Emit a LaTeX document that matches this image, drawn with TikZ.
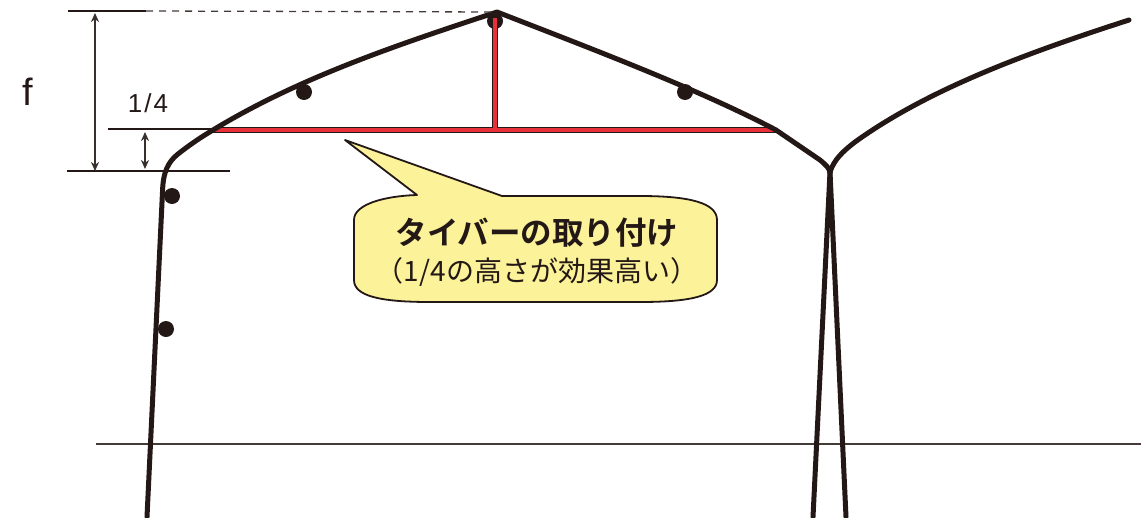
\documentclass[tikz,border=0pt]{standalone}
\usepackage{fontspec}
\setmainfont{Liberation Sans}
\newfontfamily\cjk{Noto Sans CJK JP}
\newfontfamily\cjkb[BoldFont={Noto Sans CJK JP Bold}]{Noto Sans CJK JP}
\usetikzlibrary{arrows.meta}
\definecolor{inkk}{HTML}{231815}
\definecolor{tie}{HTML}{E8303A}
\definecolor{bubble}{HTML}{FBF29A}
\tikzset{
  frame/.style={draw=inkk,line width=5pt,line cap=round,line join=round},
  thinline/.style={draw=inkk,line width=2.2pt},
  hair/.style={draw=inkk!85!white,line width=1.3pt},
  dim/.style={draw=inkk!90!white,line width=1.8pt,{Stealth[length=9pt,width=8pt]}-{Stealth[length=9pt,width=8pt]}},
  bolt/.style={circle,fill=inkk,inner sep=0pt,minimum size=16pt},
  tiebar/.style={draw=inkk,line width=6pt},
  tiefill/.style={draw=tie,line width=3.8pt},
  lbl/.style={inner sep=0pt,text=inkk}
}
\begin{document}
\begin{tikzpicture}[x=1pt,y=-1pt]
\useasboundingbox (0,0) rectangle (1141,517);
% coordinates
\coordinate (topL) at (68,11);
\coordinate (topM) at (146,11);
\coordinate (apex) at (497,12);
\coordinate (quarterL) at (108,129);
\coordinate (quarterR) at (213,129);
\coordinate (baseL) at (67,171);
\coordinate (baseR) at (230,171);
\coordinate (dimA1) at (95,13);
\coordinate (dimA2) at (95,171);
\coordinate (dimB1) at (145,132);
\coordinate (dimB2) at (145,169);
\coordinate (tieL) at (213,130);
\coordinate (tieR) at (776,130);
\coordinate (tieT) at (495,18);
\coordinate (tieB) at (495,130);
\coordinate (valley) at (830,172);
\coordinate (gl1) at (96,444);
\coordinate (gl2) at (1141,444);
% ground line
\draw[hair] (gl1) -- (gl2);
% bolts under frame
\node[bolt] (b0) at (495,21) {};
\node[bolt] (b1) at (304,92) {};
\node[bolt] (b2) at (685,92) {};
\node[bolt] (b3) at (172,196) {};
\node[bolt] (b4) at (166,329) {};
% tie bars
\draw[tiebar] (tieL) -- (tieR);
\draw[tiebar] (tieT) -- (tieB);
\draw[tiefill] (tieL) -- (tieR);
\draw[tiefill] (tieT) -- (tieB);
% frame
\draw[frame] (147,517) -- (162.5,192) .. controls (163,172) and (168,162) .. (178,154)
  .. controls (192,143) and (203,136) .. (tieL)
  .. controls (300,77) and (400,44) .. (apex)
  .. controls (600,52) and (700,90) .. (tieR) -- (820,160) .. controls (826,165) and (829,168) .. (valley);
\draw[frame] (valley) .. controls (834,160) and (842,152) .. (855,142)
  .. controls (930,88) and (1030,52) .. (1129,20);
\draw[frame] (valley) -- (813,517);
\draw[frame] (valley) -- (846,517);
% dimension lines
\draw[thinline] (topL) -- (topM);
\draw[hair,dash pattern=on 7pt off 6pt] (topM) -- (apex);
\draw[thinline] (quarterL) -- (quarterR);
\draw[thinline] (baseL) -- (baseR);
\draw[dim] (dimA1) -- (dimA2);
\draw[dim] (dimB1) -- (dimB2);
\node[lbl,font=\fontsize{38}{38}\selectfont] (f) at (28,92) {f};
\node[lbl,font=\fontsize{26}{26}\selectfont] (q) at (148,103) {1\kern2pt/\kern2pt4};
% callout
\draw[draw=inkk,line width=1.8pt,fill=bubble,line join=round] (345,140) -- (502,196) -- (640,196)
  .. controls (690,196) and (717,203) .. (717,220) -- (717,280)
  .. controls (717,296) and (690,302) .. (640,302) -- (430,302)
  .. controls (380,302) and (354,296) .. (354,280) -- (354,220)
  .. controls (354,204) and (385,196) .. (417,195) -- cycle;
\node[lbl,font=\cjkb\bfseries\fontsize{31.5}{31.5}\selectfont] (title) at (537,233) {タイバーの取り付け};
\node[lbl,font=\cjk\fontsize{28}{28}\selectfont] (sub) at (537,272) {（1/4の高さが効果高い）};
\end{tikzpicture}
\end{document}
